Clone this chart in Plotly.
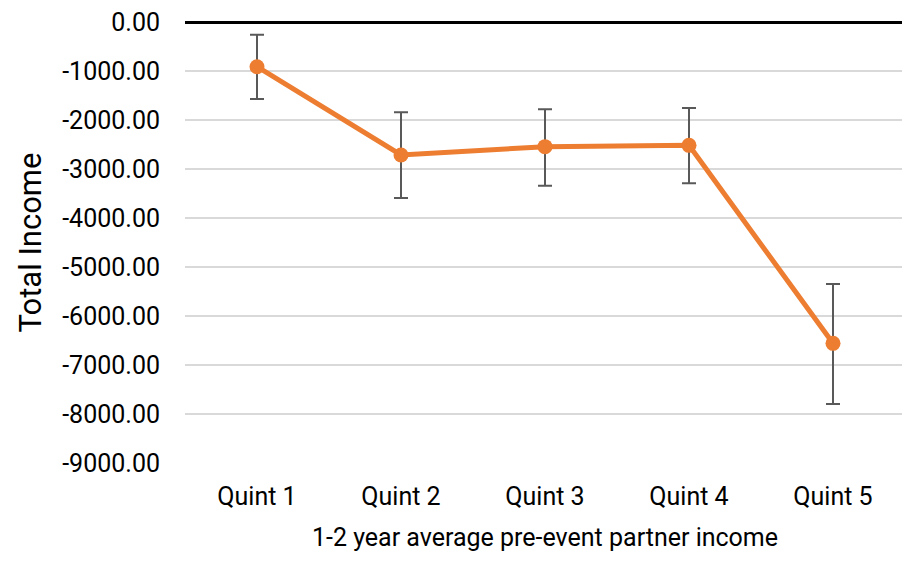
import plotly.graph_objects as go

categories = ["Quint 1", "Quint 2", "Quint 3", "Quint 4", "Quint 5"]
values = [-912, -2714, -2544, -2517, -6558]
err_plus = [653, 871, 762, 762, 1211]
err_minus = [659, 878, 796, 776, 1238]
y_tickvals = [0, -1000, -2000, -3000, -4000, -5000, -6000, -7000, -8000, -9000]
y_ticktext = ["0.00", "-1000.00", "-2000.00", "-3000.00", "-4000.00", "-5000.00",
              "-6000.00", "-7000.00", "-8000.00", "-9000.00"]

fig = go.Figure()
fig.add_trace(go.Scatter(
    x=categories, y=values, mode="lines+markers",
    line=dict(color="#ED7D31", width=5),
    marker=dict(color="#ED7D31", size=15),
    error_y=dict(type="data", symmetric=False, array=err_plus, arrayminus=err_minus,
                 color="#595959", thickness=2, width=7),
    showlegend=False,
))

fig.update_layout(
    width=910, height=562,
    margin=dict(l=177, r=13, t=14, b=107),
    plot_bgcolor="white", paper_bgcolor="white",
    font=dict(family="Roboto", size=25, color="#000000"),
    xaxis=dict(
        type="category", range=[-0.5, 4.5], showgrid=False, showline=False,
        zeroline=False, ticks="", ticklabelstandoff=16, automargin=False,
        tickfont=dict(size=25),
        title=dict(text="1-2 year average pre-event partner income", font=dict(size=25), standoff=18),
    ),
    yaxis=dict(
        range=[-9000, 0], tickvals=y_tickvals, ticktext=y_ticktext,
        showgrid=True, gridcolor="#d9d9d9", gridwidth=1.5,
        zeroline=True, zerolinecolor="#000000", zerolinewidth=3,
        showline=False, ticks="", ticklabelstandoff=24, automargin=False,
        ticklabeloverflow="allow",
        tickfont=dict(size=25),
        title=dict(text="Total Income", font=dict(size=31), standoff=11),
    ),
)

fig.write_html("out.html")
